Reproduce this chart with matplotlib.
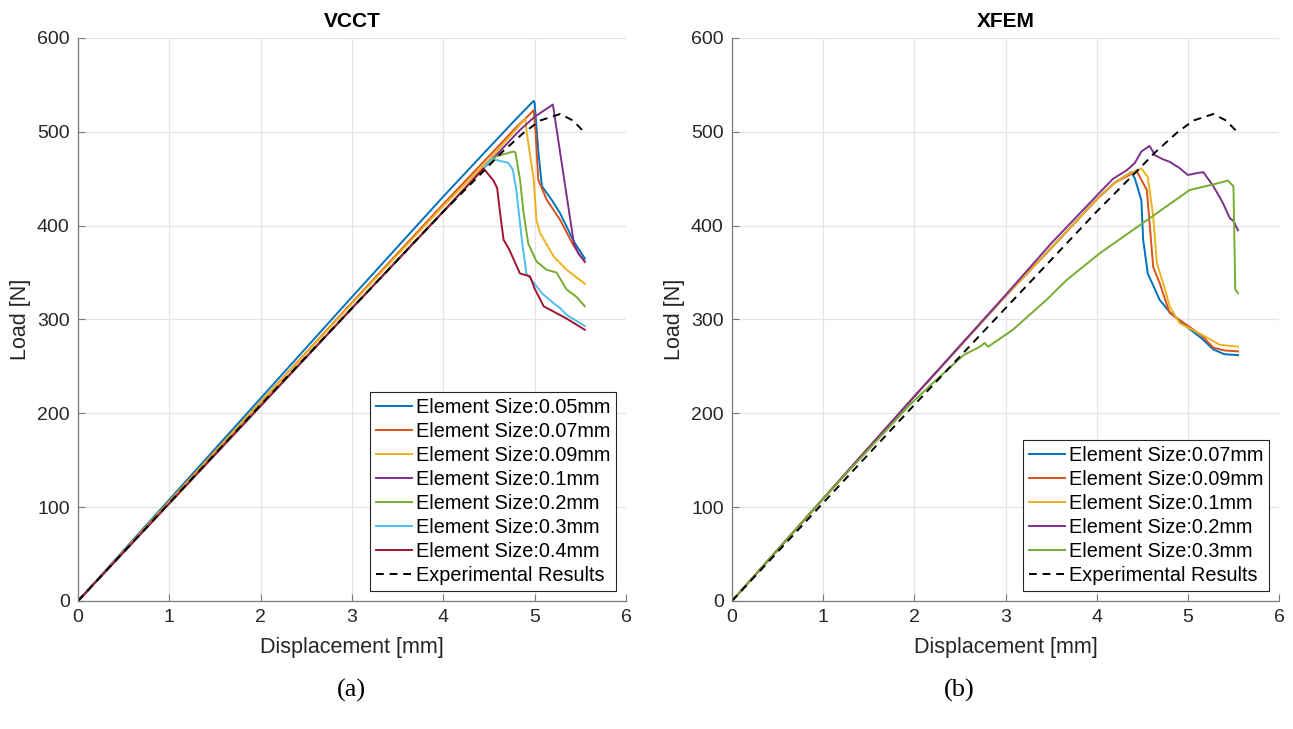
import matplotlib
matplotlib.use('Agg')
import matplotlib.pyplot as plt

plt.rcParams['font.family'] = ['Liberation Sans', 'DejaVu Sans']

# MATLAB default line colours
colors = ['#0072BD', '#D95319', '#EDB120', '#7E2F8E', '#77AC30', '#4DBEEE', '#A2142F']

# experimental curve (same in both panels)
exp_x = [0, 1, 2, 3, 4, 4.44, 4.64, 4.88, 5.06, 5.28, 5.42, 5.55]
exp_y = [0, 104.5, 209, 312, 415, 458, 478, 499, 512, 519, 512, 499]

# VCCT
vcct_labels = ['Element Size:0.05mm', 'Element Size:0.07mm', 'Element Size:0.09mm',
               'Element Size:0.1mm', 'Element Size:0.2mm', 'Element Size:0.3mm',
               'Element Size:0.4mm']
vcct_005_x = [0, 1, 2, 3, 4, 4.5, 4.8, 4.95, 4.99, 5.0, 5.04, 5.08, 5.19, 5.28, 5.43, 5.55]
vcct_005_y = [0, 108, 216, 324, 431, 483, 514, 529, 533, 531, 480, 442, 427, 413, 383, 365]
vcct_007_x = [0, 1, 2, 3, 4, 4.5, 4.8, 4.95, 4.99, 5.01, 5.04, 5.13, 5.28, 5.43, 5.55]
vcct_007_y = [0, 106, 212, 318, 423, 474, 505, 519, 523, 500, 449, 428, 406, 378, 361]
vcct_009_x = [0, 1, 2, 3, 4, 4.5, 4.8, 4.9, 4.91, 4.99, 5.02, 5.06, 5.21, 5.35, 5.55]
vcct_009_y = [0, 106, 212, 317, 421, 470, 503, 514, 502, 449, 406, 392, 367, 353, 338]
vcct_01_x = [0, 1, 2, 3, 4, 4.5, 4.84, 5.0, 5.2, 5.43, 5.48, 5.55]
vcct_01_y = [0, 104, 208, 312, 415, 467, 502, 516, 529, 381, 370, 362]
vcct_02_x = [0, 1, 2, 3, 4, 4.45, 4.58, 4.77, 4.79, 4.84, 4.88, 4.93, 5.02, 5.13, 5.24, 5.35, 5.46, 5.55]
vcct_02_y = [0, 104, 208, 312, 415, 462, 474, 479, 478, 449, 413, 381, 362, 353, 350, 332, 324, 314]
vcct_03_x = [0, 1, 2, 3, 4, 4.45, 4.53, 4.71, 4.76, 4.80, 4.86, 4.91, 5.0, 5.08, 5.2, 5.28, 5.35, 5.45, 5.55]
vcct_03_y = [0, 104, 208, 312, 415, 462, 471, 467, 460, 438, 385, 349, 338, 328, 318, 312, 305, 299, 293]
vcct_04_x = [0, 1, 2, 3, 4, 4.44, 4.55, 4.59, 4.62, 4.66, 4.72, 4.84, 4.95, 5.0, 5.10, 5.35, 5.55]
vcct_04_y = [0, 104, 208, 312, 415, 461, 448, 440, 415, 385, 375, 349, 346, 333, 314, 301, 289]

# XFEM
xfem_labels = ['Element Size:0.07mm', 'Element Size:0.09mm', 'Element Size:0.1mm',
               'Element Size:0.2mm', 'Element Size:0.3mm']
xfem_007_x = [0, 1, 2, 3, 3.5, 4, 4.2, 4.38, 4.42, 4.49, 4.51, 4.56, 4.64, 4.69, 4.8, 4.99, 5.15, 5.28, 5.4, 5.55]
xfem_007_y = [0, 109, 218, 325, 376, 428, 446, 457, 450, 427, 385, 349, 332, 321, 308, 292, 280, 268, 263, 262]
xfem_009_x = [0, 1, 2, 3, 3.5, 4, 4.2, 4.44, 4.55, 4.58, 4.62, 4.69, 4.8, 4.99, 5.15, 5.28, 5.4, 5.55]
xfem_009_y = [0, 109, 218, 325, 376, 428, 446, 458, 438, 403, 356, 339, 307, 294, 283, 270, 267, 266]
xfem_01_x = [0, 1, 2, 3, 3.5, 4, 4.2, 4.35, 4.49, 4.56, 4.62, 4.66, 4.75, 4.80, 4.91, 5.13, 5.35, 5.55]
xfem_01_y = [0, 109, 218, 325, 376, 428, 446, 455, 461, 452, 410, 360, 332, 314, 296, 285, 273, 271]
xfem_02_x = [0, 1, 2, 3, 3.5, 4.04, 4.18, 4.33, 4.42, 4.49, 4.58, 4.64, 4.72, 4.80, 4.9, 5.0, 5.1,
             5.17, 5.28, 5.38, 5.46, 5.5, 5.55]
xfem_02_y = [0, 109, 218, 326, 381, 436, 450, 459, 467, 479, 485, 475, 471, 468, 462, 454, 456,
             457, 442, 425, 408, 405, 395]
xfem_03_x = [0, 1, 1.95, 2.2, 2.54, 2.72, 2.77, 2.81, 3.08, 3.45, 3.67, 4.04, 4.51, 5.02, 5.28,
             5.44, 5.50, 5.52, 5.55]
xfem_03_y = [0, 109, 209, 232, 262, 271, 275, 271, 289, 321, 342, 371, 403, 438, 444,
             448, 442, 332, 328]

vcct_series = [(vcct_005_x, vcct_005_y), (vcct_007_x, vcct_007_y), (vcct_009_x, vcct_009_y),
               (vcct_01_x, vcct_01_y), (vcct_02_x, vcct_02_y), (vcct_03_x, vcct_03_y),
               (vcct_04_x, vcct_04_y)]
xfem_series = [(xfem_007_x, xfem_007_y), (xfem_009_x, xfem_009_y), (xfem_01_x, xfem_01_y),
               (xfem_02_x, xfem_02_y), (xfem_03_x, xfem_03_y)]

fig = plt.figure(figsize=(12.93, 7.29), dpi=100)
ax1 = fig.add_axes([0.0603, 0.1756, 0.4238, 0.7723])
ax2 = fig.add_axes([0.5661, 0.1756, 0.4231, 0.7723])


def draw_panel(ax, series, labels, title):
    for (x, y), lab, c in zip(series, labels, colors):
        ax.plot(x, y, color=c, lw=1.4, label=lab)
    ax.plot(exp_x, exp_y, 'k--', lw=1.4, label='Experimental Results', dashes=(4, 3))
    ax.set_xlim(0, 6)
    ax.set_ylim(0, 600)
    ax.set_xticks(range(0, 7))
    ax.set_yticks(range(0, 700, 100))
    ax.grid(True, color='#e4e4e4', lw=0.9)
    ax.set_axisbelow(True)
    for s in ['top', 'right']:
        ax.spines[s].set_visible(False)
    for s in ['left', 'bottom']:
        ax.spines[s].set_color('#7a7a7a')
        ax.spines[s].set_linewidth(0.9)
    ax.tick_params(direction='in', length=5, width=0.8, color='#7a7a7a',
                   labelsize=14, labelcolor='#262626', pad=6)
    ax.set_xlabel('Displacement [mm]', fontsize=15.5, color='#262626', labelpad=8)
    ax.set_ylabel('Load [N]', fontsize=15.5, color='#262626', labelpad=4)
    ax.set_title(title, fontsize=15, fontweight='bold', pad=8)
    leg = ax.legend(loc='lower right', fontsize=14.3, handlelength=1.8, handletextpad=0.2,
                    labelspacing=0.25, borderpad=0.3, fancybox=False, framealpha=1,
                    borderaxespad=0.5)
    leg.get_frame().set_edgecolor('#262626')
    leg.get_frame().set_linewidth(0.8)


draw_panel(ax1, vcct_series, vcct_labels, 'VCCT')
draw_panel(ax2, xfem_series, xfem_labels, 'XFEM')

fig.text(0.272, 0.053, '(a)', ha='center', va='center', fontsize=19, family='Liberation Serif')
fig.text(0.742, 0.053, '(b)', ha='center', va='center', fontsize=19, family='Liberation Serif')

fig.savefig('out.png', dpi=100)
